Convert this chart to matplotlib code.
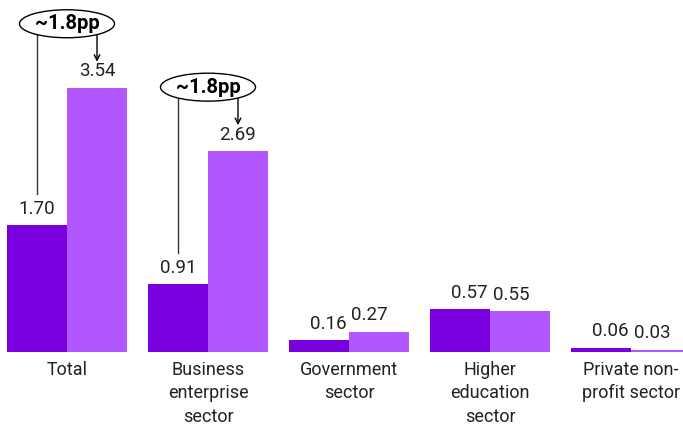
import numpy as np
import matplotlib.pyplot as plt
from matplotlib.patches import Ellipse

plt.rcParams['font.family'] = ['Roboto', 'DejaVu Sans']

# Datos por sector
sectores = ['Total', 'Business\nenterprise\nsector', 'Government\nsector',
            'Higher\neducation\nsector', 'Private non-\nprofit sector']
serie_a = [1.70, 0.91, 0.16, 0.57, 0.06]
serie_b = [3.54, 2.69, 0.27, 0.55, 0.03]
notas = {0: '~1.8pp', 1: '~1.8pp'}

color_a = '#7a00e0'
color_b = '#b256ff'
texto = '#222222'

fig = plt.figure(figsize=(6.83, 4.25), dpi=100)
ax = fig.add_axes([0, 0, 1, 1])

x = np.arange(len(sectores))
ancho = 0.4255
ax.bar(x - ancho / 2, serie_a, ancho, color=color_a)
ax.bar(x + ancho / 2, serie_b, ancho, color=color_b)

# Etiquetas de valor; si quedan a la misma altura se acercan al centro
for xi, va, vb in zip(x, serie_a, serie_b):
    d = 0.065 if abs(va - vb) < 0.5 else 0
    ax.text(xi - ancho / 2 + d, va + 0.1, f'{va:.2f}', ha='center',
            va='bottom', fontsize=13.5, color=texto)
    ax.text(xi + ancho / 2 - d, vb + 0.1, f'{vb:.2f}', ha='center',
            va='bottom', fontsize=13.5, color=texto)

# Nombres de los sectores bajo las barras
for xi, nombre in zip(x, sectores):
    ax.text(xi, -0.12, nombre, ha='center', va='top', fontsize=13,
            color=texto, linespacing=1.38)

# Elipses con la diferencia y flechas
for i, nota in notas.items():
    ey = serie_b[i] + 0.86
    ax.add_patch(Ellipse((x[i], ey), 0.674, 0.375, facecolor='white',
                         edgecolor='black', lw=1, zorder=3))
    ax.text(x[i], ey, nota, ha='center', va='center', fontsize=14.5,
            fontweight='bold', color='black', zorder=4)
    ax.plot([x[i] - ancho / 2] * 2, [ey - 0.15, serie_a[i] + 0.42],
            color='#333333', lw=1)
    ax.annotate('', xy=(x[i] + ancho / 2, serie_b[i] + 0.35),
                xytext=(x[i] + ancho / 2, ey - 0.15),
                arrowprops=dict(arrowstyle='->', color='black', lw=1,
                                shrinkA=0, shrinkB=0))

ax.set_xlim(-67 / 141, (683 - 67) / 141)
ax.set_ylim(-73 / 74.6, 352 / 74.6)
ax.axis('off')

fig.savefig('out.png', dpi=100)
